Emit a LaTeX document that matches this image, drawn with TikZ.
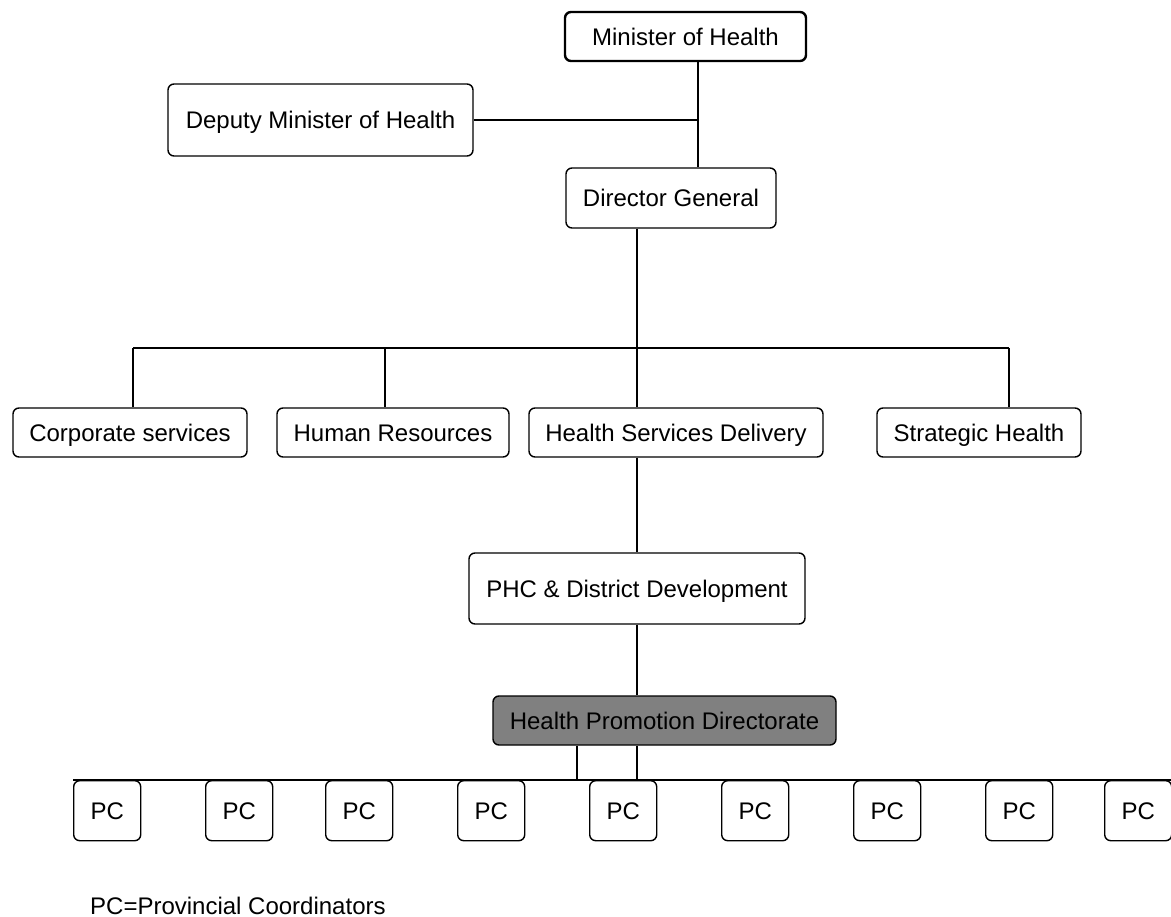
\documentclass[tikz,border=0pt]{standalone}
\usepackage{fontspec}
\setmainfont{Liberation Sans}
\begin{document}
\begin{tikzpicture}[x=1pt,y=-1pt,
  box/.style={draw, rounded corners=6pt, line width=1.4pt, inner sep=0pt,
    font=\fontsize{24}{28}\selectfont, align=center, text height=17.2pt, text depth=0pt},
  pcbox/.style={box, minimum width=67pt, minimum height=60pt, anchor=north west},
  conn/.style={line width=1.4pt}]
\useasboundingbox (0,0) rectangle (1171,917);
% top level
\node[box, line width=2.4pt, minimum width=241pt, minimum height=49pt] (mh) at (685.5,36.5) {Minister of Health};
\node[box, minimum width=305pt, minimum height=72pt] (dm) at (320.5,120) {Deputy Minister of Health};
\node[box, minimum width=210pt, minimum height=60pt] (dg) at (671,198) {Director General};
% second row
\node[box, minimum width=234pt, minimum height=49pt] (cs) at (130,432.5) {Corporate services};
\node[box, minimum width=232pt, minimum height=49pt] (hr) at (393,432.5) {Human Resources};
\node[box, minimum width=294pt, minimum height=49pt] (hsd) at (676,432.5) {Health Services Delivery};
\node[box, minimum width=204pt, minimum height=49pt] (sh) at (979,432.5) {Strategic Health};
\node[box, minimum width=336pt, minimum height=71pt] (phc) at (637,588.5) {PHC \& District Development};
\node[box, fill={rgb,255:red,128;green,128;blue,128}, minimum width=343pt, minimum height=49pt] (hpd) at (664.5,720.5) {Health Promotion Directorate};
% PC boxes
\node[pcbox] (pc1) at (73,780) {PC};
\node[pcbox] (pc2) at (205,780) {PC};
\node[pcbox] (pc3) at (325,780) {PC};
\node[pcbox] (pc4) at (457,780) {PC};
\node[pcbox] (pc5) at (589,780) {PC};
\node[pcbox] (pc6) at (721,780) {PC};
\node[pcbox] (pc7) at (853,780) {PC};
\node[pcbox] (pc8) at (985,780) {PC};
\node[pcbox] (pc9) at (1104,780) {PC};
% footnote
\node[anchor=base west, inner sep=0pt, text depth=0pt, font=\fontsize{24}{28}\selectfont] (note) at (90,914) {PC=Provincial Coordinators};
% connectors
\coordinate (j) at (698,120);
\draw[conn] (j |- mh.south) -- (j |- dg.north);
\draw[conn] (dm.east) -- (j);
\coordinate (bl) at (133,348);
\coordinate (bh) at (385,348);
\coordinate (bm) at (637,348);
\coordinate (br) at (1009,348);
\draw[conn] (bl) -- (br);
\draw[conn] (bm |- dg.south) -- (bm);
\draw[conn] (bl) -- (bl |- cs.north);
\draw[conn] (bh) -- (bh |- hr.north);
\draw[conn] (bm) -- (bm |- hsd.north);
\draw[conn] (br) -- (br |- sh.north);
\draw[conn] (bm |- hsd.south) -- (phc.north);
\draw[conn] (phc.south) -- (phc.south |- hpd.north);
\coordinate (pl) at (73,780);
\coordinate (pr) at (1171,780);
\coordinate (q1) at (577,780);
\coordinate (q2) at (637,780);
\draw[conn] (pl) -- (pr);
\draw[conn] (q1 |- hpd.south) -- (q1);
\draw[conn] (q2 |- hpd.south) -- (q2);
\end{tikzpicture}
\end{document}
